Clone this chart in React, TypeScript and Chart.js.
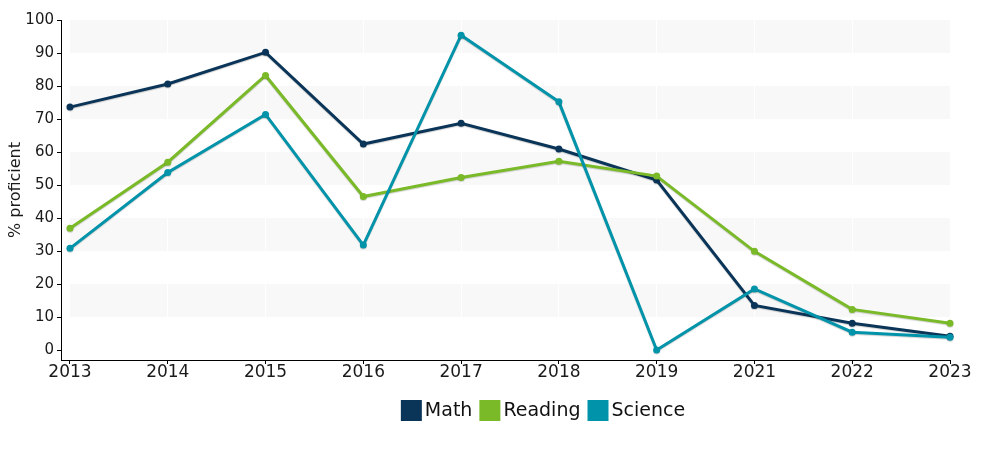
import React, { useEffect, useRef } from "react";
import { Chart, registerables } from "chart.js";

Chart.register(...registerables);

const years = ["2013", "2014", "2015", "2016", "2017", "2018", "2019", "2021", "2022", "2023"];
const mathValues = [73.6, 80.6, 90.2, 62.4, 68.7, 60.9, 51.5, 13.5, 8.1, 4.2];
const readingValues = [36.9, 56.9, 83.2, 46.5, 52.3, 57.2, 52.7, 29.9, 12.3, 8.1];
const scienceValues = [30.8, 53.8, 71.4, 31.8, 95.4, 75.2, 0.0, 18.5, 5.4, 3.9];
const seriesNames = ["Math", "Reading", "Science"];
const seriesColors = ["#0b3558", "#7aba28", "#0093a9"];
const bandRanges = [[10, 20], [30, 40], [50, 60], [70, 80], [90, 100]];

const FONT = "'DejaVu Sans', Verdana, sans-serif";

const toPoints = (vals: number[]) => vals.map((v, i) => ({ x: i, y: v }));

const bandsPlugin = {
  id: "bands",
  beforeDraw(chart: any) {
    const { ctx, scales } = chart;
    const xs = scales.x;
    const ys = scales.y;
    const x0 = xs.getPixelForValue(0);
    const x1 = xs.getPixelForValue(years.length - 1);
    ctx.save();
    ctx.fillStyle = "#f8f8f8";
    bandRanges.forEach(([a, b]) => {
      const yTop = ys.getPixelForValue(b);
      const yBot = ys.getPixelForValue(a);
      ctx.fillRect(x0, yTop, x1 - x0, yBot - yTop);
    });
    ctx.restore();
  },
  beforeDatasetDraw(chart: any) {
    const ctx = chart.ctx;
    ctx.save();
    ctx.shadowColor = "rgba(0,0,0,0.18)";
    ctx.shadowOffsetY = 1;
    ctx.shadowBlur = 1;
  },
  afterDatasetDraw(chart: any) {
    chart.ctx.restore();
  },
};

const legendPlugin = {
  id: "customLegend",
  afterDraw(chart: any) {
    const ctx = chart.ctx;
    ctx.save();
    ctx.font = `19px ${FONT}`;
    const box = 21;
    const gap = 3;
    const itemGap = 7;
    const widths = seriesNames.map((n) => box + gap + ctx.measureText(n).width);
    const total = widths.reduce((a, b) => a + b, 0) + itemGap * (seriesNames.length - 1);
    let x = 543 - total / 2;
    const yTop = 400;
    ctx.textBaseline = "middle";
    ctx.textAlign = "left";
    seriesNames.forEach((n, i) => {
      ctx.fillStyle = seriesColors[i];
      ctx.fillRect(x, yTop, box, box);
      ctx.fillStyle = "#111";
      ctx.fillText(n, x + box + gap, yTop + box / 2 + 1);
      x += widths[i] + itemGap;
    });
    ctx.restore();
  },
};

export default function App() {
  const ref = useRef<HTMLCanvasElement>(null);

  useEffect(() => {
    if (!ref.current) return;
    const values = [mathValues, readingValues, scienceValues];
    const chart = new Chart(ref.current, {
      type: "line",
      data: {
        datasets: seriesNames.map((name, i) => ({
          label: name,
          data: toPoints(values[i]),
          borderColor: seriesColors[i],
          backgroundColor: seriesColors[i],
          borderWidth: 3,
          pointRadius: 3.5,
          pointBorderWidth: 0,
          pointHoverRadius: 4,
          tension: 0,
          fill: false,
          clip: false,
          order: 2 - i,
        })),
      },
      options: {
        animation: false,
        responsive: true,
        maintainAspectRatio: false,
        layout: { padding: { top: 20, right: 50, bottom: 60, left: 0 } },
        plugins: {
          legend: { display: false },
          tooltip: { enabled: false },
        },
        scales: {
          x: {
            type: "linear",
            min: -0.092,
            max: years.length - 1,
            afterFit: (s: any) => {
              s.height = 30;
            },
            ticks: {
              stepSize: 1,
              includeBounds: false,
              autoSkip: false,
              maxRotation: 0,
              padding: -2,
              color: "#1a1a1a",
              font: { family: FONT, size: 17 },
              callback: (v: any) => years[v] ?? "",
            },
            grid: {
              color: "rgba(255,255,255,0.9)",
              lineWidth: 1,
              tickColor: "#000",
              tickLength: 4,
            },
            border: { display: true, color: "#000", width: 1 },
          },
          y: {
            type: "linear",
            min: -3.03,
            max: 100,
            afterFit: (s: any) => {
              s.width = 61;
            },
            ticks: {
              stepSize: 10,
              includeBounds: false,
              padding: 3,
              color: "#1a1a1a",
              font: { family: FONT, size: 15 },
            },
            grid: {
              drawOnChartArea: false,
              tickColor: "#000",
              tickLength: 4,
            },
            border: { display: true, color: "#000", width: 1 },
            title: {
              display: true,
              text: "% proficient",
              color: "#1a1a1a",
              font: { family: FONT, size: 16 },
              padding: { top: 6, bottom: 0 },
            },
          },
        },
      },
      plugins: [bandsPlugin, legendPlugin],
    });
    return () => chart.destroy();
  }, []);

  return (
    <div style={{ position: "absolute", left: 0, top: 0, width: 1000, height: 450, background: "#fff" }}>
      <canvas ref={ref} />
    </div>
  );
}
